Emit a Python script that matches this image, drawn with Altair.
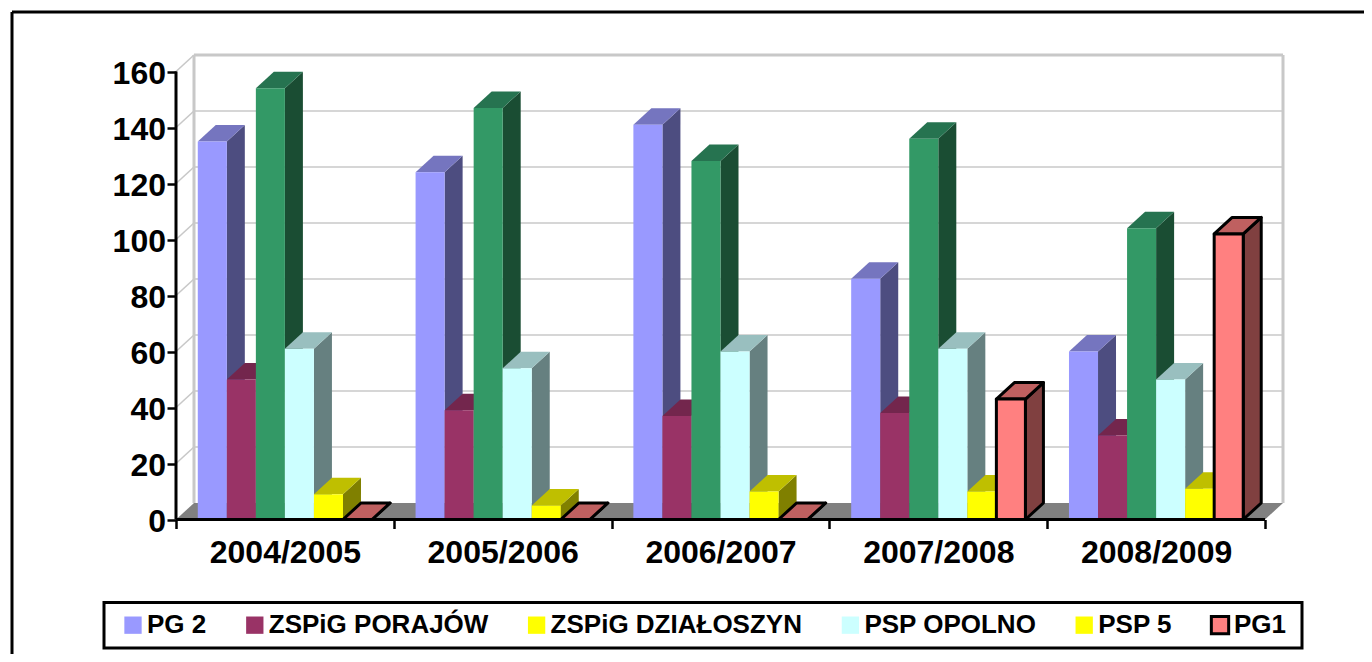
import altair as alt
import pandas as pd

years = ["2004/2005", "2005/2006", "2006/2007", "2007/2008", "2008/2009"]
pg2 = [135, 124, 141, 86, 60]
porajow = [50, 39, 37, 38, 30]
dzialoszyn = [154, 147, 128, 136, 104]
opolno = [61, 54, 60, 61, 50]
psp5 = [9, 5, 10, 10, 11]
pg1 = [0, 0, 0, 43, 102]
y_ticks = [0, 20, 40, 60, 80, 100, 120, 140, 160]

names = ["PG 2", "ZSPiG PORAJÓW", "ZSPiG DZIAŁOSZYN", "PSP OPOLNO", "PSP 5", "PG1"]
series = [pg2, porajow, dzialoszyn, opolno, psp5, pg1]
front = ["#9999FF", "#993366", "#339966", "#CCFFFF", "#FFFF00", "#FF8080"]
side = ["#4D4D80", "#4D1A33", "#1A4D33", "#668080", "#808000", "#804040"]
top = ["#7575BF", "#73264D", "#267350", "#99BFBF", "#BFBF00", "#BF6060"]
legend_fill = ["#9999FF", "#993366", "#FFFF00", "#CCFFFF", "#FFFF00", "#FF8080"]
legend_stroke = ["transparent", "transparent", "transparent", "transparent", "transparent", "#000000"]

FONT = "Liberation Sans"
PX_X = 217.8   # pixels per category
PX_Y = 2.8     # pixels per unit
W, H = 1108, 464.5
DX, DY = 18 / PX_X, 16.5 / PX_Y
BAR = 1 / 7.5
GAP = 0.75 / 7.5
XMAX, YMAX = W / PX_X, H / PX_Y

xs = alt.Scale(domain=[0, XMAX], nice=False, zero=False)
ys = alt.Scale(domain=[0, YMAX], nice=False, zero=False)
label_expr = "datum.value < 5 ? " + str(years) + "[round(datum.value)] : ''"
x_axis = alt.Axis(
    values=[0, 1, 2, 3, 4, 5], title=None, domain=False, grid=False,
    tickColor="#000000", tickWidth=2.5, tickSize=9,
    labelExpr=label_expr, labelOffset=PX_X / 2, labelOverlap=False, labelBound=False,
    labelFlush=False, labelFont=FONT, labelFontWeight="bold", labelFontSize=32,
    labelColor="#000000", labelPadding=9, zindex=1)
y_axis = alt.Axis(
    values=y_ticks, title=None, domain=False, grid=False,
    tickColor="#000000", tickWidth=2.5, tickSize=9,
    labelFont=FONT, labelFontWeight="bold", labelFontSize=32,
    labelColor="#000000", labelPadding=1.5, labelOverlap=False, labelBound=False,
    labelFlush=False, labelOffset=1.5, zindex=1)
X = alt.X("x:Q", scale=xs, axis=x_axis)
Y = alt.Y("y:Q", scale=ys, axis=y_axis)
X2 = alt.X2("x2:Q")
Y2 = alt.Y2("y2:Q")

layers = []

# floor
floor = pd.DataFrame({"y": [0, DY], "x": [0, DX], "x2": [5, 5 + DX]})
layers.append(
    alt.Chart(floor).mark_area(orient="horizontal", color="#808080").encode(x=X, x2=X2, y=Y)
)

# gridlines on the back wall
grid = pd.DataFrame({"x": [DX] * len(y_ticks), "x2": [5 + DX] * len(y_ticks),
                     "y": [t + DY for t in y_ticks]})
layers.append(
    alt.Chart(grid[grid.y > DY]).mark_rule(color="#C8C8C8", strokeWidth=1.6).encode(x=X, x2=X2, y=Y)
)
# gridlines on the side wall
diag = pd.DataFrame([
    {"tick": t, "x": a, "y": t + b} for t in y_ticks[1:] for a, b in ((0, 0), (DX, DY))
])
layers.append(
    alt.Chart(diag).mark_line(color="#C8C8C8", strokeWidth=1.6).encode(x=X, y=Y, detail="tick:N")
)
# wall edges
walls = pd.DataFrame([
    {"x": DX, "x2": DX, "y": DY, "y2": 160 + DY},
    {"x": 5 + DX, "x2": 5 + DX, "y": DY, "y2": 160 + DY},
    {"x": DX, "x2": 5 + DX, "y": 160 + DY, "y2": 160 + DY},
])
layers.append(
    alt.Chart(walls).mark_rule(color="#C8C8C8", strokeWidth=3).encode(x=X, x2=X2, y=Y, y2=Y2)
)

# bars, painted left to right
for i, vals in enumerate(series):
    sides, tops, fronts = [], [], []
    for g, v in enumerate(vals):
        x0 = g + GAP + i * BAR
        x1 = x0 + BAR
        fronts.append({"x": x0, "x2": x1, "y": v, "y2": 0})
        sides += [{"bar": g, "x": x1, "y": v, "y2": 0},
                  {"bar": g, "x": x1 + DX, "y": v + DY, "y2": DY}]
        tops += [{"bar": g, "y": v, "x": x0, "x2": x1},
                 {"bar": g, "y": v + DY, "x": x0 + DX, "x2": x1 + DX}]
    st = {"stroke": "#000000", "strokeWidth": 3, "strokeJoin": "round"} if i == 5 else {}
    layers.append(alt.Chart(pd.DataFrame(sides)).mark_area(color=side[i], **st).encode(
        x=X, y=Y, y2=Y2, detail="bar:N"))
    layers.append(alt.Chart(pd.DataFrame(tops)).mark_area(color=top[i], orient="horizontal", **st).encode(
        x=X, x2=X2, y=Y, detail="bar:N"))
    layers.append(alt.Chart(pd.DataFrame(fronts)).mark_rect(color=front[i], **st).encode(
        x=X, x2=X2, y=Y, y2=Y2))

# axis lines
lines = pd.DataFrame([
    {"x": 0, "x2": 0, "y": 0, "y2": 160},
    {"x": 0, "x2": 5, "y": 0, "y2": 0},
])
layers.append(
    alt.Chart(lines).mark_rule(color="#000000", strokeWidth=3).encode(x=X, x2=X2, y=Y, y2=Y2)
)

ax = pd.DataFrame({"x": [0.0], "y": [0.0]})

# outer frame lines and legend box (page decoration)
layers.append(alt.Chart(ax).mark_rule(color="#000000", strokeWidth=3).encode(
    x=alt.value(-164), x2=alt.value(1188), y=alt.value(-43)))
layers.append(alt.Chart(ax).mark_rule(color="#000000", strokeWidth=3).encode(
    x=alt.value(-164), y=alt.value(-43), y2=alt.value(607)))
layers.append(alt.Chart(ax).mark_rect(fill="#FFFFFF", stroke="#000000", strokeWidth=3).encode(
    x=alt.value(-72), x2=alt.value(1126), y=alt.value(547.5), y2=alt.value(593)))

# legend
leg = pd.DataFrame({"name": names})
leg_opts = dict(
    title=None, orient="none", legendX=-56, legendY=557, columns=6,
    direction="vertical", gridAlign="each", columnPadding=32.8, padding=0,
    symbolType="square", symbolSize=300, symbolStrokeWidth=3, symbolOpacity=1,
    labelFont=FONT, labelFontWeight="bold", labelFontSize=26,
    labelColor="#000000", labelLimit=400, labelOffset=1)
layers.append(
    alt.Chart(leg).transform_filter("false").mark_square(filled=True, opacity=1).encode(
        color=alt.Color("name:N", sort=None, scale=alt.Scale(domain=names, range=legend_fill),
                        legend=alt.Legend(**leg_opts)),
        stroke=alt.Stroke("name:N", sort=None, scale=alt.Scale(domain=names, range=legend_stroke),
                          legend=alt.Legend(**leg_opts)),
    )
)

chart = alt.layer(*layers).resolve_scale(color="independent", stroke="independent").properties(
    width=W, height=H,
    padding={"left": 168, "top": 47, "right": 80, "bottom": 134},
    autosize=alt.AutoSizeParams(type="none"),
    background="#FFFFFF",
).configure_view(stroke=None)

chart.save("out.html", embed_options={"renderer": "svg", "actions": False})
